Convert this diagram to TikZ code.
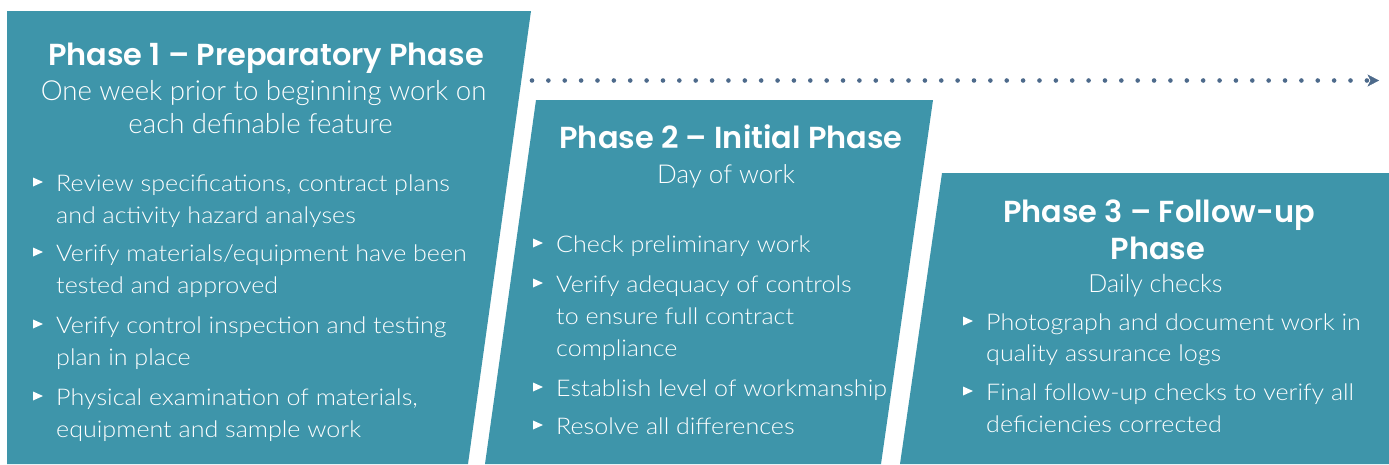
\documentclass[tikz,border=0pt]{standalone}
\usepackage{fontspec}
\usetikzlibrary{arrows.meta}
\newfontfamily\headfont{Poppins SemiBold}
\newfontfamily\bodyfont{Lato Light}
\newfontfamily\itemfont{Lato Light}[FakeStretch=1.09]
\definecolor{phaseteal}{HTML}{3E95AA}
\definecolor{dotblue}{HTML}{4D6A8B}

% bullet line: text node with a small white triangle marker in front
\newcommand\bulletline[4]{%
  \node[itemtxt] (#1) at (#2,#3) {#4};
  \pic at (#1.base west) {marker};}
% continuation line of a bullet, no marker
\newcommand\contline[4]{\node[itemtxt] (#1) at (#2,#3) {#4};}

\begin{document}
\begin{tikzpicture}[x=1pt,y=-1pt,
  panel/.style={fill=phaseteal},
  headtxt/.style={text=white,inner sep=0pt,anchor=base,
    font=\headfont\fontsize{30.4}{37}\selectfont},
  subtxt/.style={text=white,inner sep=0pt,anchor=base,
    font=\bodyfont\fontsize{#1}{33}\selectfont},
  subtxt/.default=25,
  itemtxt/.style={text=white,inner sep=0pt,anchor=base west,
    font=\itemfont\fontsize{23}{32}\selectfont},
  marker/.pic={\fill[white] (-23,-13.5) -- (-13,-9) -- (-23,-4.5) -- cycle;}]
\useasboundingbox (0,0) rectangle (1389,464);

% three slanted panels
\fill[panel] (7,11) -- (531,11) -- (468,464) -- (7,464) -- cycle;
\fill[panel] (536,100) -- (933,100) -- (881,464) -- (485,464) -- cycle;
\fill[panel] (942,173) -- (1389,173) -- (1389,464) -- (900,464) -- cycle;

% dotted timeline arrow
\coordinate (flowstart) at (532,80.5);
\coordinate (flowend) at (1379,80.5);
\draw[dotblue, line width=4.6pt, line cap=round, dash pattern=on 0pt off 16.37pt,
  -{Stealth[length=11.5pt,width=12pt,inset=3pt,line width=0.4pt]}]
  (flowstart) -- (flowend);

% Phase 1
\node[headtxt] (h1) at (266,65) {Phase 1 – Preparatory Phase};
\node[subtxt=27.6] (s1a) at (263.5,100) {One week prior to beginning work on};
\node[subtxt=27.6] (s1b) at (260.5,133) {each definable feature};
\bulletline{p1a}{56}{191}{Review specifications, contract plans}
\contline{p1b}{56}{223}{and activity hazard analyses}
\bulletline{p1c}{56}{261}{Verify materials/equipment have been}
\contline{p1d}{56}{293}{tested and approved}
\bulletline{p1e}{56}{333}{Verify control inspection and testing}
\contline{p1f}{56}{365}{plan in place}
\bulletline{p1g}{56}{405}{Physical examination of materials,}
\contline{p1h}{56}{437}{equipment and sample work}

% Phase 2
\node[headtxt] (h2) at (731,148) {Phase 2 – Initial Phase};
\node[subtxt=26] (s2) at (726,183) {Day of work};
\bulletline{p2a}{556}{252}{Check preliminary work}
\bulletline{p2b}{556}{292}{Verify adequacy of controls}
\contline{p2c}{556}{324}{to ensure full contract}
\contline{p2d}{556}{356}{compliance}
\bulletline{p2e}{556}{396}{Establish level of workmanship}
\bulletline{p2f}{556}{434}{Resolve all differences}

% Phase 3
\node[headtxt] (h3a) at (1159,222) {Phase 3 – Follow-up};
\node[headtxt] (h3b) at (1158,259) {Phase};
\node[subtxt=25] (s3) at (1155.5,292) {Daily checks};
\bulletline{p3a}{986}{330}{Photograph and document work in}
\contline{p3b}{986}{361}{quality assurance logs}
\bulletline{p3c}{986}{400}{Final follow-up checks to verify all}
\contline{p3d}{986}{432}{deficiencies corrected}
\end{tikzpicture}
\end{document}
